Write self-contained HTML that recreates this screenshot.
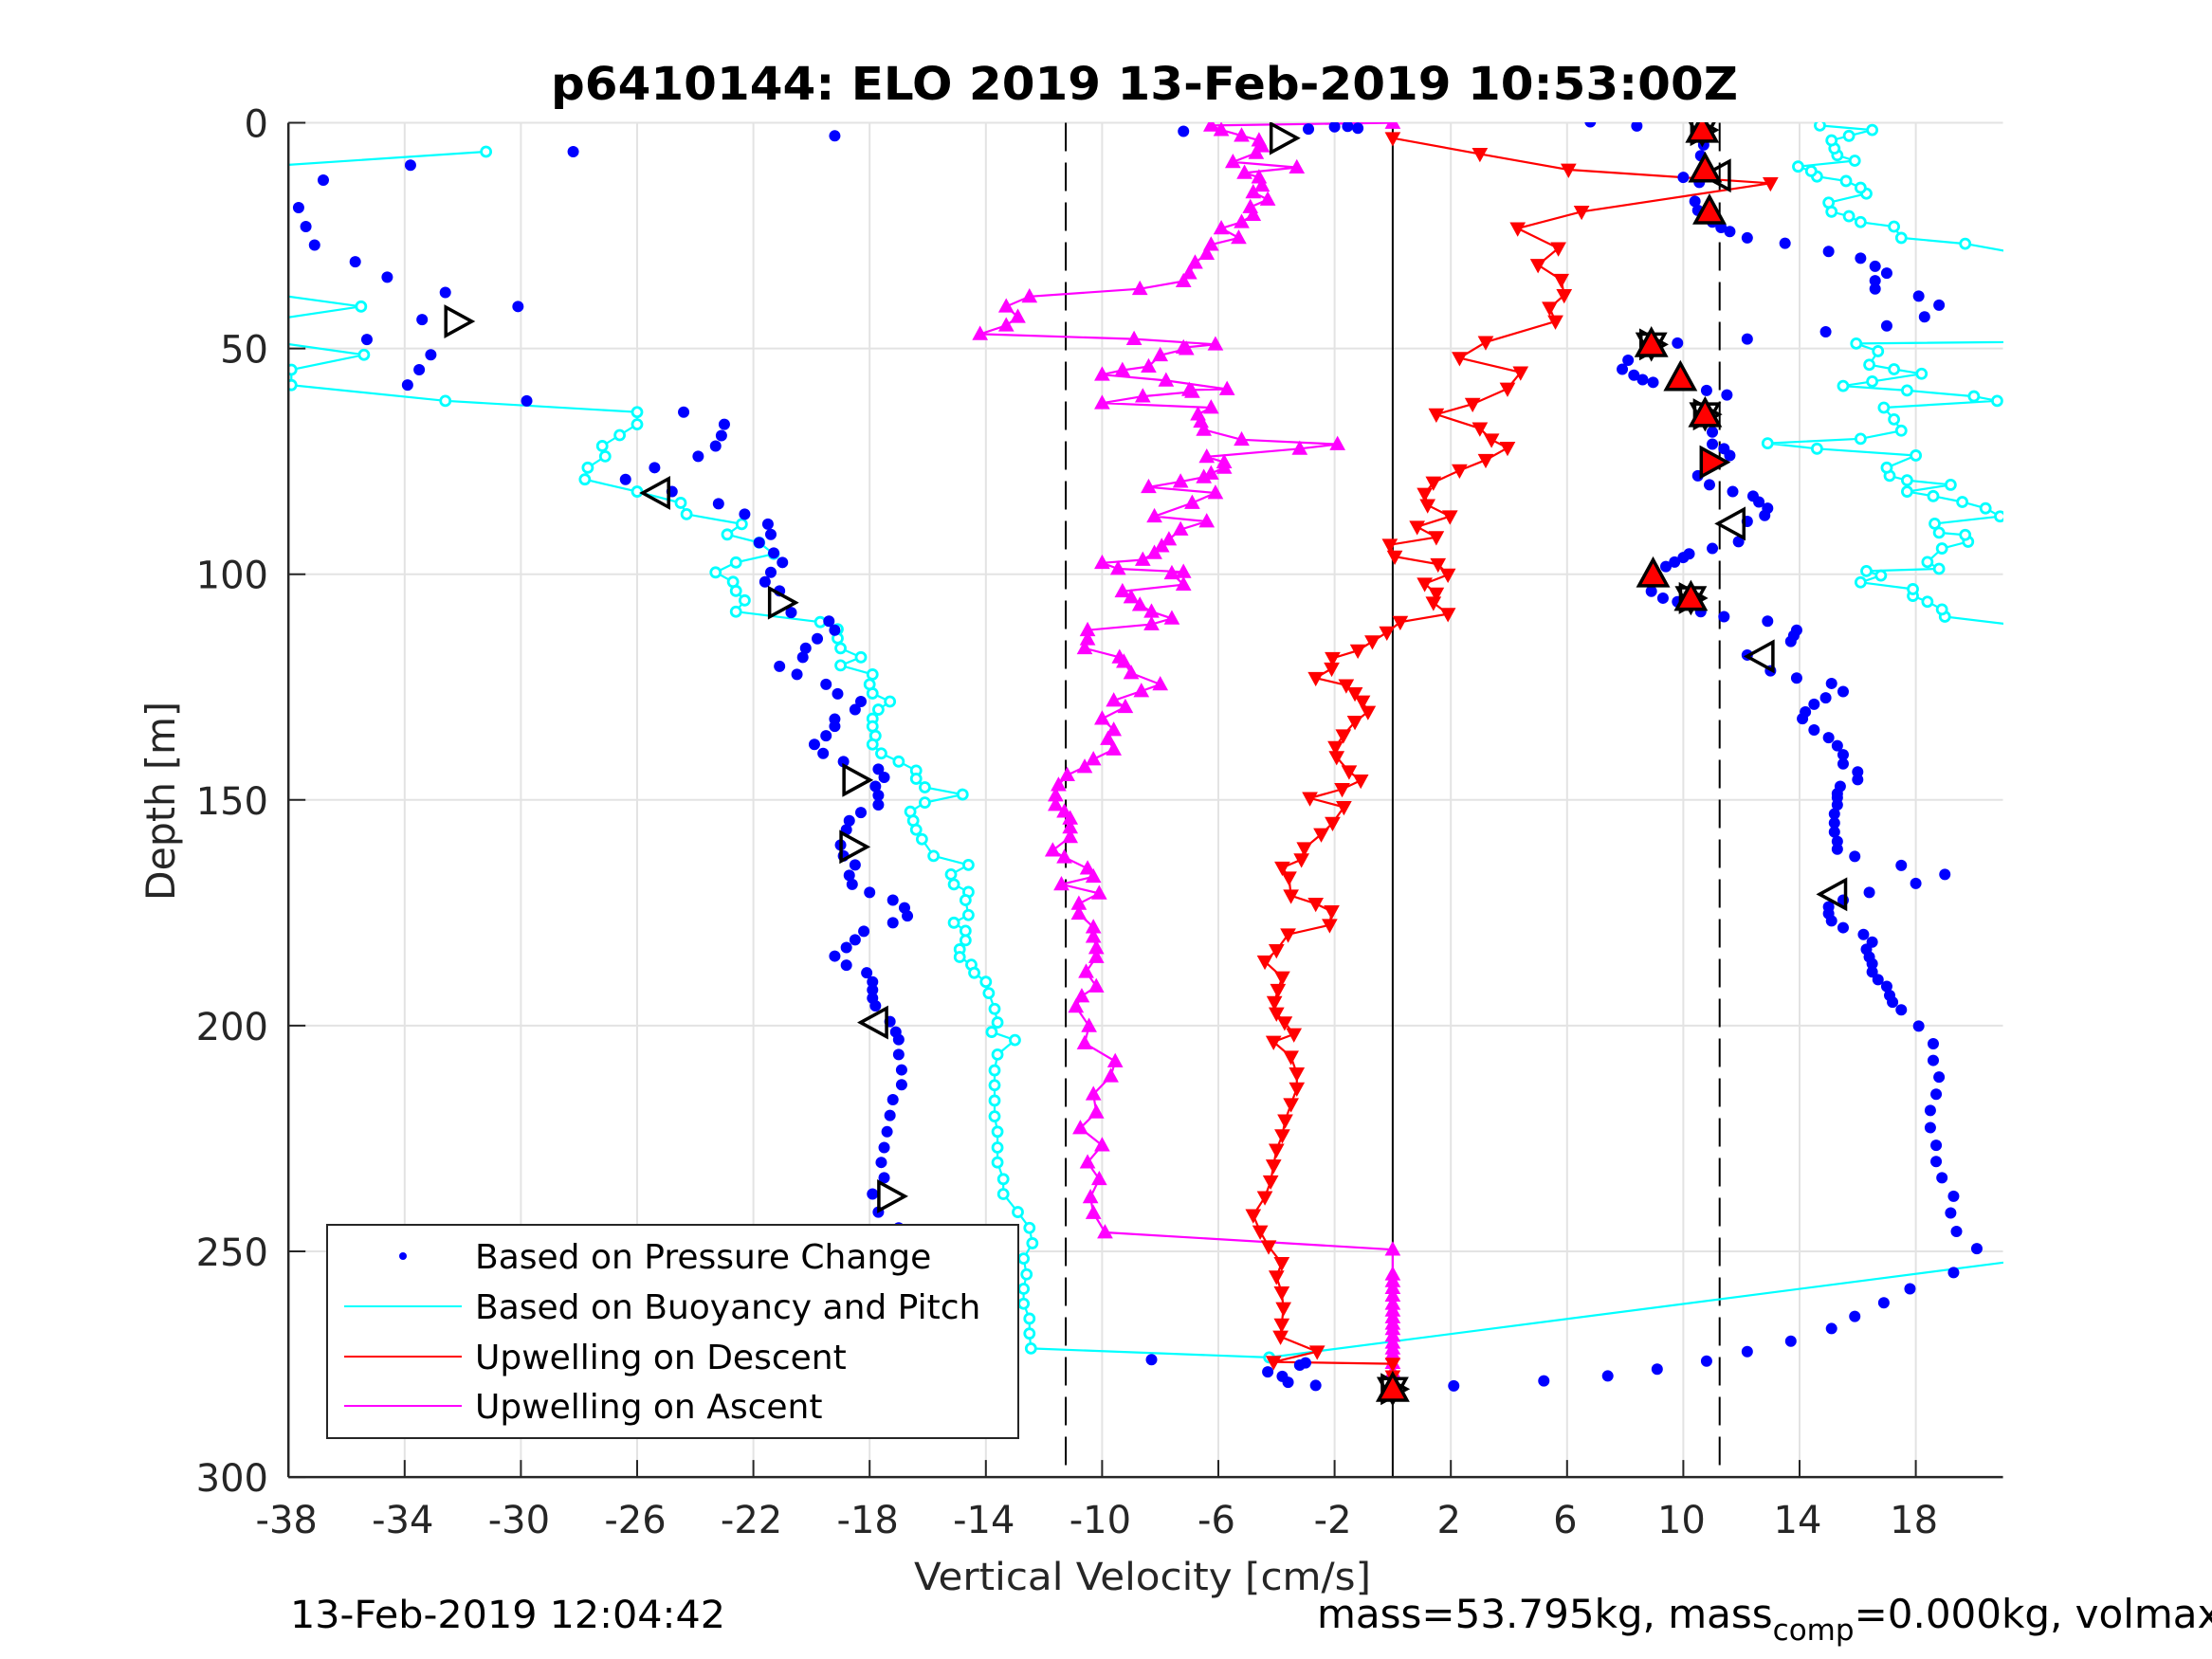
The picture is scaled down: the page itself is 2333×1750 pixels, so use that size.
<!DOCTYPE html>
<html><head><meta charset="utf-8"><style>
html,body{margin:0;padding:0;background:#fff;}
svg{display:block;font-family:"DejaVu Sans","Liberation Sans",sans-serif;}
</style></head><body>
<svg id="chart" width="2333" height="1750" viewBox="0 0 2333 1750" xmlns="http://www.w3.org/2000/svg">
<defs><clipPath id="plotclip"><rect x="304" y="129" width="1809" height="1430"/></clipPath></defs>
<rect width="2333" height="1750" fill="#fff"/>
<g id="grid"></g>
<g id="refs" clip-path="url(#plotclip)"></g>
<g id="series" clip-path="url(#plotclip)"></g>
<g id="axes"></g>
<text x="1207" y="105" text-anchor="middle" font-size="48" font-weight="bold" fill="#000" textLength="1252" lengthAdjust="spacingAndGlyphs">p6410144: ELO 2019 13-Feb-2019 10:53:00Z</text>
<text x="1205" y="1677" text-anchor="middle" font-size="40" fill="#262626" textLength="482" lengthAdjust="spacingAndGlyphs">Vertical Velocity [cm/s]</text>
<text transform="translate(184,845) rotate(-90)" text-anchor="middle" font-size="42" fill="#262626" textLength="210" lengthAdjust="spacingAndGlyphs">Depth [m]</text>
<text x="306" y="1717" font-size="40" fill="#000" textLength="459" lengthAdjust="spacingAndGlyphs">13-Feb-2019 12:04:42</text>
<text x="1389" y="1717" font-size="42" fill="#000">mass=53.795kg, mass<tspan font-size="31" dy="13">comp</tspan><tspan dy="-13">=0.000kg, volmax</tspan></text>
<g id="legend"></g>
</svg>
<script>
// ---- data ----
const xTicks = [-38,-34,-30,-26,-22,-18,-14,-10,-6,-2,2,6,10,14,18];
const yTicks = [0,50,100,150,200,250,300];
const dashedLines = [-11.25, 11.25];
const zeroLine = [0];
const pressurePoints = [[-19.2,2.9],[-28.2,6.4],[-33.8,9.4],[-36.8,12.7],[-37.65,18.8],[-37.4,23.0],[-37.1,27.1],[-35.7,30.8],[-34.6,34.2],[-32.6,37.6],[-30.1,40.7],[-33.4,43.6],[-35.3,48.0],[-33.1,51.4],[-33.5,54.7],[-33.9,58.1],[-29.8,61.6],[-24.4,64.1],[-23.0,66.8],[-23.1,69.3],[-23.3,71.6],[-23.9,73.9],[-25.4,76.4],[-26.4,79.0],[-24.8,81.7],[-23.2,84.4],[-22.3,86.7],[-21.5,88.9],[-21.4,91.2],[-21.8,93.0],[-21.3,95.3],[-21.0,97.4],[-21.4,99.6],[-21.6,101.7],[-21.1,103.7],[-20.7,108.5],[-19.4,110.4],[-19.2,112.4],[-19.8,114.3],[-20.2,116.4],[-20.3,118.4],[-21.1,120.4],[-20.5,122.2],[-19.5,124.4],[-19.1,126.5],[-18.3,128.2],[-18.5,130.0],[-19.2,132.1],[-19.2,133.7],[-19.5,135.8],[-19.9,137.7],[-19.6,139.7],[-18.9,141.5],[-17.7,143.2],[-17.5,145.0],[-17.8,147.0],[-17.7,149.0],[-17.7,151.1],[-18.3,152.8],[-18.7,154.6],[-18.8,156.6],[-19.0,160.0],[-18.9,162.4],[-18.5,164.4],[-18.7,166.7],[-18.6,168.7],[-18.0,170.5],[-17.2,172.2],[-16.8,173.9],[-16.7,175.7],[-17.2,177.2],[-18.2,179.1],[-18.5,181.0],[-18.8,182.7],[-19.2,184.6],[-18.8,186.6],[-18.1,188.3],[-17.9,190.3],[-17.9,192.1],[-17.9,193.9],[-17.8,195.6],[-17.3,199.1],[-17.1,201.4],[-17.0,203.1],[-17.0,206.4],[-16.9,209.8],[-16.9,213.1],[-17.2,216.4],[-17.3,219.9],[-17.4,223.5],[-17.5,227.0],[-17.6,230.3],[-17.5,233.7],[-17.9,237.3],[-17.7,241.3],[-17.0,244.8],[-16.7,248.2],[-16.5,251.6],[-16.6,255.1],[-16.5,258.3],[-16.4,261.6],[-16.2,264.9],[-16.4,268.2],[-15.1,271.5],[-8.3,274.0],[-4.3,276.7],[-3.8,277.7],[-3.6,279.0],[-3.2,275.2],[-3.0,274.7],[-2.65,279.7],[2.1,279.8],[5.2,278.7],[7.4,277.6],[9.1,276.1],[10.8,274.3],[12.2,272.2],[13.7,269.9],[15.1,267.1],[15.9,264.4],[16.9,261.4],[17.8,258.3],[19.3,254.7],[20.1,249.4],[19.4,245.6],[19.2,241.5],[19.3,237.8],[18.9,233.7],[18.7,230.1],[18.7,226.5],[18.5,222.6],[18.5,218.8],[18.7,215.2],[18.8,211.4],[18.6,207.7],[18.6,204.0],[18.1,200.1],[17.5,196.5],[17.2,194.8],[17.1,193.3],[17.0,191.3],[16.7,189.8],[16.5,188.1],[16.5,186.3],[16.4,184.8],[16.3,183.1],[16.5,181.5],[16.2,179.8],[15.5,178.3],[15.1,176.8],[15.0,175.2],[15.0,173.7],[15.5,172.2],[16.4,170.5],[18.0,168.5],[19.0,166.5],[17.5,164.5],[15.9,162.5],[15.3,160.9],[15.3,159.2],[15.2,157.1],[15.2,155.1],[15.2,153.1],[15.3,151.1],[15.3,148.6],[15.3,149.5],[15.4,147.0],[16.0,145.5],[16.0,143.8],[15.5,142.0],[15.5,140.0],[15.3,138.0],[15.0,136.2],[14.5,134.5],[14.1,132.0],[14.2,130.5],[14.5,128.8],[14.9,127.4],[15.5,126.0],[15.1,124.2],[13.9,123.0],[13.0,121.4],[12.2,117.9],[13.7,114.9],[13.8,113.6],[13.9,112.4],[12.9,110.4],[11.4,109.4],[10.6,108.3],[9.8,106.1],[9.3,105.3],[8.9,103.8],[9.4,98.3],[9.7,97.3],[10.0,96.3],[10.2,95.5],[11.0,94.3],[11.9,92.8],[12.2,88.3],[12.8,87.0],[12.9,85.4],[12.6,84.0],[12.4,82.7],[11.7,81.7],[10.9,80.2],[10.5,78.2],[11.6,73.7],[11.4,72.2],[11.0,71.2],[11.0,68.5],[10.9,66.1],[11.5,60.3],[10.8,59.3],[9.8,58.1],[8.96,57.5],[8.6,56.9],[8.3,55.9],[7.9,54.6],[8.1,52.6],[9.8,48.8],[12.2,47.9],[14.9,46.3],[17.0,45.0],[18.3,43.0],[18.8,40.4],[18.1,38.4],[16.6,36.8],[16.6,35.0],[17.0,33.3],[16.6,31.8],[16.1,30.0],[15.0,28.5],[13.5,26.7],[12.2,25.5],[11.6,24.1],[11.3,23.2],[11.0,22.0],[10.5,19.4],[10.4,17.4],[10.55,13.2],[10.0,12.1],[10.6,7.3],[10.7,4.9],[8.4,0.7],[6.8,-0.2],[-1.2,1.2],[-1.55,0.8],[-2.0,0.9],[-2.9,1.4],[-7.2,1.9]];
const buoyancyPoints = [[-31.2,6.4],[-45,12.3],[-45,32.3],[-35.5,40.7],[-40,45.0],[-40,47.2],[-35.4,51.4],[-37.9,54.7],[-37.9,58.1],[-32.6,61.6],[-26.0,64.1],[-26.0,66.8],[-26.6,69.2],[-27.2,71.6],[-27.1,73.9],[-27.7,76.4],[-27.8,79.0],[-26.0,81.7],[-24.5,84.2],[-24.3,86.7],[-22.4,88.9],[-22.9,91.2],[-21.8,93.0],[-21.3,95.5],[-22.6,97.4],[-23.3,99.6],[-22.7,101.7],[-22.6,103.7],[-22.3,105.8],[-22.6,108.3],[-19.7,110.6],[-19.1,112.2],[-19.1,114.2],[-19.0,116.4],[-18.3,118.4],[-19.0,120.2],[-17.9,122.2],[-18.0,124.4],[-17.9,126.4],[-17.3,128.2],[-17.7,130.0],[-17.9,132.0],[-17.9,133.7],[-17.8,135.8],[-17.9,137.7],[-17.6,139.7],[-17.0,141.5],[-16.4,143.5],[-16.4,145.3],[-16.1,147.2],[-14.8,148.8],[-16.1,150.6],[-16.6,152.6],[-16.5,154.6],[-16.4,156.6],[-16.2,158.7],[-15.8,162.4],[-14.6,164.4],[-15.2,166.5],[-15.1,168.7],[-14.6,170.4],[-14.7,172.2],[-14.6,175.5],[-15.1,177.2],[-14.7,179.0],[-14.7,181.1],[-14.9,183.1],[-14.9,184.8],[-14.5,186.5],[-14.4,188.3],[-14.0,190.3],[-13.9,192.8],[-13.7,196.3],[-13.6,199.3],[-13.8,201.4],[-13.0,203.2],[-13.6,206.4],[-13.7,209.9],[-13.7,213.2],[-13.7,216.6],[-13.7,220.1],[-13.6,223.5],[-13.6,227.0],[-13.6,230.3],[-13.4,234.0],[-13.4,237.3],[-12.9,241.3],[-12.5,244.8],[-12.4,248.2],[-12.7,251.6],[-12.6,255.1],[-12.7,258.3],[-12.7,261.6],[-12.5,264.9],[-12.5,268.2],[-12.45,271.5],[-4.25,273.5],[30,245],[25,114],[19.0,109.4],[18.9,107.8],[18.4,106.1],[17.9,104.8],[17.9,103.3],[16.1,101.8],[16.8,100.3],[16.3,99.3],[18.8,98.8],[18.4,97.3],[18.9,94.3],[19.8,92.8],[19.7,91.3],[18.8,90.8],[18.65,88.8],[20.9,87.2],[20.4,85.4],[19.6,84.0],[18.6,82.7],[17.7,81.7],[19.2,80.2],[17.7,79.2],[17.1,78.2],[17.0,76.4],[18.0,73.7],[14.6,72.2],[12.9,71.0],[16.1,70.0],[17.5,68.2],[17.25,65.7],[16.9,63.1],[20.8,61.6],[20.0,60.6],[17.7,59.3],[15.5,58.3],[16.5,57.3],[18.2,55.6],[17.25,54.6],[16.4,53.6],[16.7,50.6],[15.95,48.9],[30,48.0],[25,33],[19.7,26.8],[17.5,25.5],[17.25,23.0],[16.1,22.0],[15.7,20.7],[15.1,19.7],[15.0,17.7],[16.3,15.7],[16.1,14.4],[15.6,12.9],[14.6,11.9],[14.4,10.7],[13.95,9.7],[15.9,8.4],[15.3,7.2],[15.2,5.7],[15.1,3.9],[15.7,2.9],[16.5,1.6],[14.7,0.6]];
const descentPoints = [[0.0,3.4],[3.0,6.9],[6.05,10.4],[13.0,13.4],[6.5,19.7],[4.3,23.4],[5.7,27.8],[5.0,31.5],[5.8,34.8],[5.9,38.2],[5.4,41.0],[5.6,44.0],[3.2,48.6],[2.3,52.1],[4.4,55.3],[3.95,58.9],[2.75,62.3],[1.5,64.6],[3.0,67.7],[3.4,70.2],[3.95,72.0],[3.2,74.7],[2.3,77.0],[1.4,79.7],[1.1,82.2],[1.2,84.7],[1.97,87.2],[0.84,89.5],[1.5,91.8],[-0.1,93.5],[0.07,96.1],[1.56,97.8],[1.9,100.1],[1.1,102.1],[1.5,104.3],[1.4,106.3],[1.9,108.8],[0.26,110.6],[-0.2,112.9],[-0.7,114.9],[-1.2,116.9],[-2.07,118.6],[-2.1,120.9],[-2.65,123.0],[-1.6,124.6],[-1.3,126.4],[-1.04,128.2],[-0.85,130.5],[-1.3,132.7],[-1.7,135.7],[-1.97,138.3],[-1.93,140.5],[-1.5,143.7],[-1.1,145.7],[-1.74,147.6],[-2.85,149.6],[-1.68,151.6],[-2.07,155.1],[-2.46,157.6],[-3.04,160.7],[-3.14,163.2],[-3.8,165.0],[-3.57,167.2],[-3.5,171.2],[-2.65,173.0],[-2.1,174.7],[-2.17,177.7],[-3.6,179.8],[-4.0,183.3],[-4.4,185.8],[-3.8,189.3],[-3.95,192.1],[-4.07,194.8],[-4.0,197.3],[-3.72,199.3],[-3.4,201.9],[-4.1,203.6],[-3.5,206.9],[-3.3,210.6],[-3.3,213.9],[-3.5,217.4],[-3.7,221.0],[-3.8,224.3],[-4.0,227.5],[-4.1,231.0],[-4.2,234.5],[-4.4,238.0],[-4.8,242.0],[-4.56,245.6],[-4.27,248.9],[-3.82,252.6],[-4.0,255.6],[-3.82,259.1],[-3.76,262.6],[-3.82,266.2],[-3.86,268.9],[-2.6,272.2],[-4.1,274.5],[0.0,274.9],[0.0,277.7]];
const ascentPoints = [[0.0,0.0],[-6.25,0.6],[-5.9,1.6],[-5.2,2.85],[-4.6,3.9],[-4.5,5.2],[-4.7,6.7],[-5.5,8.7],[-3.3,9.9],[-5.1,11.1],[-4.6,12.1],[-4.5,13.9],[-4.8,15.4],[-4.3,17.0],[-4.9,18.7],[-4.8,20.4],[-5.2,22.0],[-5.9,23.4],[-5.3,25.5],[-6.25,27.0],[-6.4,29.0],[-6.8,31.0],[-7.0,33.3],[-7.2,35.1],[-8.7,36.8],[-12.5,38.5],[-13.3,40.7],[-12.9,43.0],[-13.3,44.9],[-14.2,46.8],[-8.9,47.9],[-6.1,49.1],[-7.2,49.8],[-7.1,50.1],[-8.0,51.5],[-8.4,54.0],[-9.3,54.8],[-10.0,55.8],[-7.8,57.1],[-5.7,59.0],[-7.0,59.2],[-6.9,59.6],[-8.6,60.6],[-10.0,62.1],[-6.25,63.1],[-6.7,64.6],[-6.6,66.2],[-6.5,68.0],[-5.2,70.2],[-1.9,71.2],[-3.2,72.2],[-6.4,74.0],[-5.8,75.2],[-5.8,76.4],[-6.25,77.7],[-6.5,78.5],[-7.3,79.5],[-8.4,80.7],[-6.1,82.0],[-6.9,84.2],[-8.2,87.2],[-6.4,88.3],[-7.3,90.1],[-7.7,92.3],[-7.95,93.8],[-8.2,95.3],[-8.6,96.8],[-10.0,97.5],[-9.45,98.8],[-7.2,99.5],[-7.6,99.8],[-7.2,102.3],[-9.3,103.8],[-9.0,105.1],[-8.7,106.8],[-8.3,108.3],[-7.6,109.8],[-8.3,111.1],[-10.5,112.4],[-10.5,114.4],[-10.6,116.4],[-9.4,118.4],[-9.25,119.4],[-9.0,121.9],[-8.0,124.4],[-8.65,125.9],[-9.6,128.0],[-9.2,129.4],[-10.0,132.0],[-9.6,134.5],[-9.8,136.5],[-9.6,138.8],[-10.3,141.0],[-10.6,142.7],[-11.2,144.5],[-11.5,146.7],[-11.6,149.0],[-11.6,151.1],[-11.3,152.6],[-11.1,154.1],[-11.1,156.1],[-11.1,158.2],[-11.7,161.2],[-11.3,162.7],[-10.5,165.2],[-10.3,167.0],[-11.4,168.7],[-10.1,170.7],[-10.8,173.0],[-10.8,175.2],[-10.3,178.2],[-10.3,180.3],[-10.2,182.8],[-10.2,184.8],[-10.55,188.1],[-10.2,191.3],[-10.7,193.5],[-10.9,195.8],[-10.45,200.1],[-10.6,203.9],[-9.55,207.9],[-9.7,211.2],[-10.3,215.2],[-10.2,219.2],[-10.75,222.7],[-10.0,226.5],[-10.5,230.3],[-10.1,234.0],[-10.4,238.0],[-10.3,241.5],[-9.9,245.8],[0.0,249.6],[0.0,255.1],[0.0,256.6],[0.0,258.1],[0.0,259.8],[0.0,261.6],[0.0,263.1],[0.0,264.6],[0.0,266.0],[0.0,267.2],[0.0,268.7],[0.0,270.2],[0.0,271.5],[0.0,272.7],[0.0,274.7],[0.0,276.7]];
const keyMarkers = [[10.65,1.6,'star'],[10.75,10.4,'up'],[10.9,19.7,'up'],[8.9,49.1,'star'],[9.9,56.6,'up'],[10.75,64.6,'star'],[11.0,75.2,'right'],[8.96,100.1,'up'],[10.26,105.3,'star'],[-16.2,271.6,'star'],[0.0,280.5,'star']];
const openRight = [[-32.2,44.0],[-3.8,3.4],[-21.06,106.3],[-18.5,145.6],[-18.6,160.4],[-17.3,237.8]];
const openLeft = [[-25.3,82.0],[11.2,11.7],[11.7,88.8],[12.7,118.2],[-17.8,199.3],[15.2,170.9]];
const legendLabels = ['Based on Pressure Change','Based on Buoyancy and Pitch','Upwelling on Descent','Upwelling on Ascent'];

// ---- scales ----
const X0=304.2, PXU=30.65, Y0=129.5, PYU=4.762, XMAX=21;
const xs = v => X0 + (v + 38) * PXU;
const ys = d => Y0 + d * PYU;
const NS='http://www.w3.org/2000/svg';
function mk(tag, attrs, parent){const e=document.createElementNS(NS,tag);for(const k in attrs)e.setAttribute(k,attrs[k]);parent.appendChild(e);return e;}
const gGrid=document.getElementById('grid'), gRefs=document.getElementById('refs'), gS=document.getElementById('series'), gAx=document.getElementById('axes'), gLeg=document.getElementById('legend');
const pLeft=xs(-38), pRight=xs(XMAX), pTop=ys(0), pBot=ys(300);

// grid
xTicks.forEach(v=>{ if(v===-38) return;
  const l=mk('line',{x1:xs(v),x2:xs(v),y1:pTop,y2:pBot,stroke:'#e3e3e3','stroke-width':2},gGrid);
  
  
});
yTicks.forEach(d=>{ if(d===300) return;
  const l=mk('line',{x1:pLeft,x2:pRight,y1:ys(d),y2:ys(d),stroke:'#e3e3e3','stroke-width':2},gGrid);
  
  
});
// reference lines
zeroLine.forEach(v=>{
  const l=mk('line',{x1:xs(v),x2:xs(v),y1:pTop,y2:pBot,stroke:'#000','stroke-width':2},gRefs);
  
  
});
dashedLines.forEach(v=>{
  const l=mk('line',{x1:xs(v),x2:xs(v),y1:pTop,y2:pBot,stroke:'#000','stroke-width':2,'stroke-dasharray':'30,12'},gRefs);
  
  
});

function tri(cx,cy,s,dir){
  const h=s*0.87, w=s;
  if(dir==='up') return `${cx},${cy-h*0.6} ${cx-w/2},${cy+h*0.45} ${cx+w/2},${cy+h*0.45}`;
  if(dir==='down') return `${cx},${cy+h*0.6} ${cx-w/2},${cy-h*0.45} ${cx+w/2},${cy-h*0.45}`;
  if(dir==='right') return `${cx+h*0.6},${cy} ${cx-h*0.45},${cy-w/2} ${cx-h*0.45},${cy+w/2}`;
  return `${cx-h*0.6},${cy} ${cx+h*0.45},${cy-w/2} ${cx+h*0.45},${cy+w/2}`;
}
const pts = arr => arr.map(p=>xs(p[0]).toFixed(1)+','+ys(p[1]).toFixed(1)).join(' ');

// cyan buoyancy
const cy1=mk('polyline',{points:pts(buoyancyPoints),fill:'none',stroke:'#00ffff','stroke-width':2.2},gS);


buoyancyPoints.forEach(p=>{
  const c=mk('circle',{cx:xs(p[0]),cy:ys(p[1]),r:5,fill:'#fff',stroke:'#00ffff','stroke-width':2.8},gS);
  
  
});
// magenta ascent
const mg=mk('polyline',{points:pts(ascentPoints),fill:'none',stroke:'#ff00ff','stroke-width':2.2},gS);


ascentPoints.forEach(p=>{
  const t=mk('polygon',{points:tri(xs(p[0]),ys(p[1]),15,'up'),fill:'#ff00ff',stroke:'#ff00ff','stroke-width':1},gS);
  
  
});
// red descent
const rd=mk('polyline',{points:pts(descentPoints),fill:'none',stroke:'#ff0000','stroke-width':2.2},gS);


descentPoints.forEach(p=>{
  const t=mk('polygon',{points:tri(xs(p[0]),ys(p[1]),15,'down'),fill:'#ff0000',stroke:'#ff0000','stroke-width':1},gS);
  
  
});
// blue pressure dots
pressurePoints.forEach(p=>{
  const c=mk('ellipse',{cx:xs(p[0]),cy:ys(p[1]),rx:6,ry:6,fill:'#0000ff'},gS);
  
  
});
// open markers
openRight.forEach(p=>{
  const t=mk('polygon',{points:tri(xs(p[0]),ys(p[1]),30,'right'),fill:'none',stroke:'#000','stroke-width':3.5},gS);
  
  
});
openLeft.forEach(p=>{
  const t=mk('polygon',{points:tri(xs(p[0]),ys(p[1]),30,'left'),fill:'none',stroke:'#000','stroke-width':3.5},gS);
  
  
});
// key markers
keyMarkers.forEach(p=>{
  const cx=xs(p[0]), cy=ys(p[1]);
  if(p[2]==='star'){
    const a=mk('polygon',{points:tri(cx,cy,28,'down'),fill:'none',stroke:'#000','stroke-width':3.5},gS);
    
    
    const b=mk('polygon',{points:tri(cx,cy,28,'right'),fill:'none',stroke:'#000','stroke-width':3.5},gS);
    
    
  }
  const t=mk('polygon',{points:tri(cx,cy,30,p[2]==='right'?'right':'up'),fill:'#ff0000',stroke:'#000','stroke-width':3.5},gS);
  
  
});

// axes
const ax1=mk('line',{x1:pLeft,x2:pLeft,y1:pTop,y2:pBot,stroke:'#262626','stroke-width':2.5},gAx);


const ax2=mk('line',{x1:pLeft,x2:pRight,y1:pBot,y2:pBot,stroke:'#262626','stroke-width':2.5},gAx);


xTicks.forEach(v=>{
  const t=mk('line',{x1:xs(v),x2:xs(v),y1:pBot,y2:pBot-18,stroke:'#262626','stroke-width':2},gAx);
  
  
  const tx=mk('text',{x:xs(v)-2,y:1617,'text-anchor':'middle','font-size':40,fill:'#262626'},gAx);
  tx.textContent=String(v);
  
  
});
yTicks.forEach(d=>{
  const t=mk('line',{x1:pLeft,x2:pLeft+18,y1:ys(d),y2:ys(d),stroke:'#262626','stroke-width':2},gAx);
  
  
  const tx=mk('text',{x:283,y:ys(d)+15,'text-anchor':'end','font-size':40,fill:'#262626'},gAx);
  tx.textContent=String(d);
  
  
});

// legend
const lb=mk('rect',{x:345,y:1292,width:729,height:225,fill:'#fff',stroke:'#262626','stroke-width':2},gLeg);


const rowsY=[1325,1378,1431,1483];
const colors=['#0000ff','#00ffff','#ff0000','#ff00ff'];
legendLabels.forEach((s,i)=>{
  if(i===0){
    const d=mk('circle',{cx:425,cy:rowsY[i],r:4,fill:colors[i]},gLeg);
    
    
  } else {
    const l=mk('line',{x1:363,x2:487,y1:rowsY[i],y2:rowsY[i],stroke:colors[i],'stroke-width':2},gLeg);
    
    
  }
  const t=mk('text',{x:501,y:rowsY[i]+13,'font-size':36,fill:'#000'},gLeg);
  t.textContent=s;
  
  
});
</script>
</body></html>
